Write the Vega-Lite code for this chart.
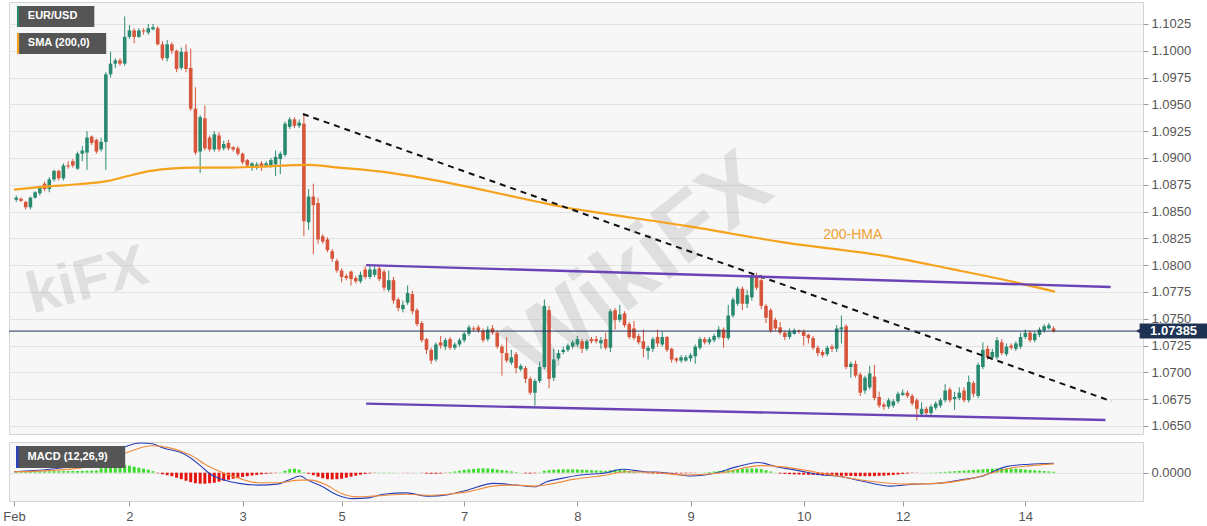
{
"$schema": "https://vega.github.io/schema/vega-lite/v6.json",
"background": "white",
"padding": {"left": 2, "top": 1, "right": 0, "bottom": 0},
"autosize": {"type": "pad"},
"spacing": 5,
"config": {
 "view": {"fill": "#f7f7f7", "stroke": "#d4d4d4"},
 "axis": {"labelFont": "Liberation Sans", "labelFontSize": 13, "labelColor": "#555555", "tickColor": "#9a9a9a", "tickSize": 5, "gridColor": "#e3e3e3", "domain": false, "title": null},
 "text": {"font": "Liberation Sans"}
},
"datasets": {
 "candles": [
{"i":0,"o":1.0861,"h":1.0865,"l":1.0859,"c":1.0863},
{"i":1,"o":1.0862,"h":1.0863,"l":1.0859,"c":1.0860},
{"i":2,"o":1.0859,"h":1.0860,"l":1.0852,"c":1.0854},
{"i":3,"o":1.0854,"h":1.0864,"l":1.0852,"c":1.0863},
{"i":4,"o":1.0863,"h":1.0869,"l":1.0862,"c":1.0868},
{"i":5,"o":1.0867,"h":1.0874,"l":1.0865,"c":1.0872},
{"i":6,"o":1.0876,"h":1.0878,"l":1.0869,"c":1.0871},
{"i":7,"o":1.0871,"h":1.0882,"l":1.0868,"c":1.0880},
{"i":8,"o":1.0880,"h":1.0889,"l":1.0878,"c":1.0888},
{"i":9,"o":1.0888,"h":1.0889,"l":1.0879,"c":1.0881},
{"i":10,"o":1.0881,"h":1.0895,"l":1.0879,"c":1.0893},
{"i":11,"o":1.0893,"h":1.0897,"l":1.0890,"c":1.0892},
{"i":12,"o":1.0897,"h":1.0899,"l":1.0891,"c":1.0893},
{"i":13,"o":1.0890,"h":1.0906,"l":1.0889,"c":1.0904},
{"i":14,"o":1.0904,"h":1.0911,"l":1.0897,"c":1.0907},
{"i":15,"o":1.0905,"h":1.0925,"l":1.0889,"c":1.0919},
{"i":16,"o":1.0920,"h":1.0921,"l":1.0912,"c":1.0914},
{"i":17,"o":1.0917,"h":1.0918,"l":1.0904,"c":1.0906},
{"i":18,"o":1.0908,"h":1.0919,"l":1.0906,"c":1.0915},
{"i":19,"o":1.0915,"h":1.0980,"l":1.0889,"c":1.0978},
{"i":20,"o":1.0978,"h":1.0999,"l":1.0975,"c":1.0988},
{"i":21,"o":1.0988,"h":1.0993,"l":1.0984,"c":1.0991},
{"i":22,"o":1.0991,"h":1.0993,"l":1.0986,"c":1.0988},
{"i":23,"o":1.0988,"h":1.1032,"l":1.0986,"c":1.1013},
{"i":24,"o":1.1013,"h":1.1024,"l":1.1011,"c":1.1019},
{"i":25,"o":1.1019,"h":1.1021,"l":1.1007,"c":1.1013},
{"i":26,"o":1.1013,"h":1.1021,"l":1.1012,"c":1.1019},
{"i":27,"o":1.1019,"h":1.1021,"l":1.1015,"c":1.1018},
{"i":28,"o":1.1017,"h":1.1025,"l":1.1015,"c":1.1021},
{"i":29,"o":1.1020,"h":1.1025,"l":1.1019,"c":1.1022},
{"i":30,"o":1.1021,"h":1.1023,"l":1.1005,"c":1.1006},
{"i":31,"o":1.1006,"h":1.1009,"l":1.0991,"c":1.0993},
{"i":32,"o":1.0993,"h":1.1010,"l":1.0990,"c":1.1006},
{"i":33,"o":1.1006,"h":1.1008,"l":1.0997,"c":1.1000},
{"i":34,"o":1.1000,"h":1.1001,"l":1.0980,"c":1.0983},
{"i":35,"o":1.0984,"h":1.1003,"l":1.0982,"c":1.0999},
{"i":36,"o":1.0999,"h":1.1006,"l":1.0980,"c":1.0983},
{"i":37,"o":1.0984,"h":1.1002,"l":1.0944,"c":1.0946},
{"i":38,"o":1.0946,"h":1.0966,"l":1.0903,"c":1.0905},
{"i":39,"o":1.0906,"h":1.0940,"l":1.0886,"c":1.0938},
{"i":40,"o":1.0937,"h":1.0949,"l":1.0907,"c":1.0909},
{"i":41,"o":1.0919,"h":1.0921,"l":1.0906,"c":1.0908},
{"i":42,"o":1.0908,"h":1.0925,"l":1.0906,"c":1.0922},
{"i":43,"o":1.0921,"h":1.0924,"l":1.0906,"c":1.0908},
{"i":44,"o":1.0909,"h":1.0916,"l":1.0907,"c":1.0913},
{"i":45,"o":1.0914,"h":1.0917,"l":1.0907,"c":1.0909},
{"i":46,"o":1.0910,"h":1.0911,"l":1.0906,"c":1.0908},
{"i":47,"o":1.0909,"h":1.0911,"l":1.0902,"c":1.0904},
{"i":48,"o":1.0904,"h":1.0905,"l":1.0894,"c":1.0896},
{"i":49,"o":1.0898,"h":1.0899,"l":1.0891,"c":1.0893},
{"i":50,"o":1.0891,"h":1.0896,"l":1.0888,"c":1.0895},
{"i":51,"o":1.0891,"h":1.0896,"l":1.0889,"c":1.0894},
{"i":52,"o":1.0895,"h":1.0897,"l":1.0888,"c":1.0892},
{"i":53,"o":1.0893,"h":1.0897,"l":1.0891,"c":1.0895},
{"i":54,"o":1.0893,"h":1.0900,"l":1.0891,"c":1.0898},
{"i":55,"o":1.0894,"h":1.0907,"l":1.0883,"c":1.0901},
{"i":56,"o":1.0899,"h":1.0906,"l":1.0885,"c":1.0904},
{"i":57,"o":1.0903,"h":1.0934,"l":1.0901,"c":1.0932},
{"i":58,"o":1.0929,"h":1.0938,"l":1.0927,"c":1.0936},
{"i":59,"o":1.0936,"h":1.0938,"l":1.0928,"c":1.0930},
{"i":60,"o":1.0930,"h":1.0936,"l":1.0928,"c":1.0933},
{"i":61,"o":1.0932,"h":1.0941,"l":1.0827,"c":1.0841},
{"i":62,"o":1.0840,"h":1.0871,"l":1.0833,"c":1.0864},
{"i":63,"o":1.0864,"h":1.0876,"l":1.0810,"c":1.0856},
{"i":64,"o":1.0858,"h":1.0863,"l":1.0820,"c":1.0824},
{"i":65,"o":1.0827,"h":1.0829,"l":1.0820,"c":1.0822},
{"i":66,"o":1.0824,"h":1.0826,"l":1.0812,"c":1.0814},
{"i":67,"o":1.0813,"h":1.0815,"l":1.0803,"c":1.0806},
{"i":68,"o":1.0804,"h":1.0806,"l":1.0793,"c":1.0795},
{"i":69,"o":1.0795,"h":1.0797,"l":1.0784,"c":1.0789},
{"i":70,"o":1.0790,"h":1.0792,"l":1.0786,"c":1.0788},
{"i":71,"o":1.0794,"h":1.0795,"l":1.0781,"c":1.0787},
{"i":72,"o":1.0788,"h":1.0790,"l":1.0783,"c":1.0785},
{"i":73,"o":1.0785,"h":1.0794,"l":1.0783,"c":1.0791},
{"i":74,"o":1.0796,"h":1.0799,"l":1.0787,"c":1.0789},
{"i":75,"o":1.0789,"h":1.0800,"l":1.0787,"c":1.0796},
{"i":76,"o":1.0791,"h":1.0800,"l":1.0789,"c":1.0796},
{"i":77,"o":1.0797,"h":1.0799,"l":1.0785,"c":1.0787},
{"i":78,"o":1.0794,"h":1.0796,"l":1.0776,"c":1.0779},
{"i":79,"o":1.0777,"h":1.0795,"l":1.0775,"c":1.0786},
{"i":80,"o":1.0786,"h":1.0789,"l":1.0764,"c":1.0767},
{"i":81,"o":1.0768,"h":1.0770,"l":1.0757,"c":1.0760},
{"i":82,"o":1.0759,"h":1.0767,"l":1.0756,"c":1.0763},
{"i":83,"o":1.0765,"h":1.0781,"l":1.0763,"c":1.0774},
{"i":84,"o":1.0773,"h":1.0776,"l":1.0754,"c":1.0757},
{"i":85,"o":1.0758,"h":1.0760,"l":1.0743,"c":1.0745},
{"i":86,"o":1.0746,"h":1.0748,"l":1.0728,"c":1.0730},
{"i":87,"o":1.0731,"h":1.0732,"l":1.0717,"c":1.0721},
{"i":88,"o":1.0721,"h":1.0723,"l":1.0708,"c":1.0711},
{"i":89,"o":1.0712,"h":1.0728,"l":1.0710,"c":1.0726},
{"i":90,"o":1.0728,"h":1.0734,"l":1.0722,"c":1.0725},
{"i":91,"o":1.0724,"h":1.0732,"l":1.0721,"c":1.0730},
{"i":92,"o":1.0731,"h":1.0733,"l":1.0721,"c":1.0723},
{"i":93,"o":1.0723,"h":1.0728,"l":1.0721,"c":1.0726},
{"i":94,"o":1.0726,"h":1.0732,"l":1.0724,"c":1.0730},
{"i":95,"o":1.0730,"h":1.0738,"l":1.0728,"c":1.0736},
{"i":96,"o":1.0736,"h":1.0744,"l":1.0734,"c":1.0742},
{"i":97,"o":1.0741,"h":1.0743,"l":1.0738,"c":1.0740},
{"i":98,"o":1.0742,"h":1.0744,"l":1.0737,"c":1.0739},
{"i":99,"o":1.0739,"h":1.0741,"l":1.0728,"c":1.0730},
{"i":100,"o":1.0731,"h":1.0743,"l":1.0729,"c":1.0740},
{"i":101,"o":1.0741,"h":1.0744,"l":1.0735,"c":1.0737},
{"i":102,"o":1.0737,"h":1.0739,"l":1.0722,"c":1.0724},
{"i":103,"o":1.0724,"h":1.0726,"l":1.0697,"c":1.0718},
{"i":104,"o":1.0718,"h":1.0733,"l":1.0709,"c":1.0711},
{"i":105,"o":1.0709,"h":1.0721,"l":1.0707,"c":1.0714},
{"i":106,"o":1.0717,"h":1.0719,"l":1.0699,"c":1.0704},
{"i":107,"o":1.0703,"h":1.0708,"l":1.0701,"c":1.0706},
{"i":108,"o":1.0704,"h":1.0706,"l":1.0690,"c":1.0694},
{"i":109,"o":1.0694,"h":1.0696,"l":1.0679,"c":1.0681},
{"i":110,"o":1.0681,"h":1.0694,"l":1.0669,"c":1.0692},
{"i":111,"o":1.0692,"h":1.0710,"l":1.0690,"c":1.0705},
{"i":112,"o":1.0705,"h":1.0768,"l":1.0703,"c":1.0762},
{"i":113,"o":1.0758,"h":1.0762,"l":1.0685,"c":1.0694},
{"i":114,"o":1.0695,"h":1.0722,"l":1.0692,"c":1.0712},
{"i":115,"o":1.0713,"h":1.0721,"l":1.0711,"c":1.0718},
{"i":116,"o":1.0719,"h":1.0724,"l":1.0717,"c":1.0721},
{"i":117,"o":1.0721,"h":1.0727,"l":1.0719,"c":1.0725},
{"i":118,"o":1.0724,"h":1.0730,"l":1.0722,"c":1.0728},
{"i":119,"o":1.0726,"h":1.0734,"l":1.0724,"c":1.0731},
{"i":120,"o":1.0729,"h":1.0731,"l":1.0718,"c":1.0722},
{"i":121,"o":1.0722,"h":1.0731,"l":1.0720,"c":1.0729},
{"i":122,"o":1.0731,"h":1.0733,"l":1.0727,"c":1.0729},
{"i":123,"o":1.0731,"h":1.0734,"l":1.0727,"c":1.0729},
{"i":124,"o":1.0727,"h":1.0733,"l":1.0722,"c":1.0730},
{"i":125,"o":1.0731,"h":1.0737,"l":1.0721,"c":1.0723},
{"i":126,"o":1.0723,"h":1.0759,"l":1.0719,"c":1.0757},
{"i":127,"o":1.0758,"h":1.0760,"l":1.0740,"c":1.0749},
{"i":128,"o":1.0749,"h":1.0763,"l":1.0747,"c":1.0754},
{"i":129,"o":1.0755,"h":1.0757,"l":1.0742,"c":1.0744},
{"i":130,"o":1.0745,"h":1.0747,"l":1.0731,"c":1.0733},
{"i":131,"o":1.0741,"h":1.0748,"l":1.0730,"c":1.0732},
{"i":132,"o":1.0734,"h":1.0736,"l":1.0726,"c":1.0728},
{"i":133,"o":1.0729,"h":1.0740,"l":1.0714,"c":1.0722},
{"i":134,"o":1.0720,"h":1.0725,"l":1.0712,"c":1.0723},
{"i":135,"o":1.0722,"h":1.0733,"l":1.0719,"c":1.0731},
{"i":136,"o":1.0733,"h":1.0740,"l":1.0724,"c":1.0727},
{"i":137,"o":1.0726,"h":1.0738,"l":1.0724,"c":1.0733},
{"i":138,"o":1.0733,"h":1.0734,"l":1.0719,"c":1.0721},
{"i":139,"o":1.0722,"h":1.0723,"l":1.0709,"c":1.0712},
{"i":140,"o":1.0713,"h":1.0714,"l":1.0709,"c":1.0711},
{"i":141,"o":1.0711,"h":1.0716,"l":1.0709,"c":1.0714},
{"i":142,"o":1.0711,"h":1.0716,"l":1.0710,"c":1.0714},
{"i":143,"o":1.0713,"h":1.0718,"l":1.0710,"c":1.0716},
{"i":144,"o":1.0715,"h":1.0726,"l":1.0708,"c":1.0724},
{"i":145,"o":1.0723,"h":1.0733,"l":1.0721,"c":1.0731},
{"i":146,"o":1.0731,"h":1.0733,"l":1.0726,"c":1.0728},
{"i":147,"o":1.0728,"h":1.0733,"l":1.0726,"c":1.0731},
{"i":148,"o":1.0730,"h":1.0736,"l":1.0728,"c":1.0734},
{"i":149,"o":1.0733,"h":1.0743,"l":1.0731,"c":1.0740},
{"i":150,"o":1.0740,"h":1.0742,"l":1.0723,"c":1.0732},
{"i":151,"o":1.0732,"h":1.0763,"l":1.0730,"c":1.0753},
{"i":152,"o":1.0753,"h":1.0770,"l":1.0751,"c":1.0768},
{"i":153,"o":1.0764,"h":1.0780,"l":1.0762,"c":1.0778},
{"i":154,"o":1.0778,"h":1.0780,"l":1.0758,"c":1.0764},
{"i":155,"o":1.0764,"h":1.0777,"l":1.0760,"c":1.0772},
{"i":156,"o":1.0770,"h":1.0793,"l":1.0767,"c":1.0790},
{"i":157,"o":1.0790,"h":1.0793,"l":1.0777,"c":1.0779},
{"i":158,"o":1.0786,"h":1.0791,"l":1.0759,"c":1.0762},
{"i":159,"o":1.0762,"h":1.0764,"l":1.0746,"c":1.0751},
{"i":160,"o":1.0758,"h":1.0760,"l":1.0737,"c":1.0739},
{"i":161,"o":1.0749,"h":1.0751,"l":1.0739,"c":1.0741},
{"i":162,"o":1.0742,"h":1.0747,"l":1.0735,"c":1.0737},
{"i":163,"o":1.0737,"h":1.0739,"l":1.0730,"c":1.0733},
{"i":164,"o":1.0733,"h":1.0741,"l":1.0731,"c":1.0738},
{"i":165,"o":1.0736,"h":1.0741,"l":1.0735,"c":1.0739},
{"i":166,"o":1.0739,"h":1.0740,"l":1.0736,"c":1.0738},
{"i":167,"o":1.0738,"h":1.0740,"l":1.0725,"c":1.0734},
{"i":168,"o":1.0735,"h":1.0736,"l":1.0727,"c":1.0732},
{"i":169,"o":1.0732,"h":1.0734,"l":1.0721,"c":1.0723},
{"i":170,"o":1.0723,"h":1.0725,"l":1.0715,"c":1.0718},
{"i":171,"o":1.0719,"h":1.0721,"l":1.0714,"c":1.0716},
{"i":172,"o":1.0717,"h":1.0725,"l":1.0715,"c":1.0723},
{"i":173,"o":1.0724,"h":1.0726,"l":1.0719,"c":1.0722},
{"i":174,"o":1.0722,"h":1.0744,"l":1.0719,"c":1.0741},
{"i":175,"o":1.0740,"h":1.0753,"l":1.0727,"c":1.0742},
{"i":176,"o":1.0743,"h":1.0745,"l":1.0703,"c":1.0705},
{"i":177,"o":1.0705,"h":1.0710,"l":1.0695,"c":1.0708},
{"i":178,"o":1.0708,"h":1.0711,"l":1.0695,"c":1.0697},
{"i":179,"o":1.0698,"h":1.0700,"l":1.0678,"c":1.0681},
{"i":180,"o":1.0683,"h":1.0697,"l":1.0680,"c":1.0695},
{"i":181,"o":1.0686,"h":1.0706,"l":1.0684,"c":1.0699},
{"i":182,"o":1.0696,"h":1.0707,"l":1.0674,"c":1.0676},
{"i":183,"o":1.0677,"h":1.0682,"l":1.0667,"c":1.0669},
{"i":184,"o":1.0670,"h":1.0672,"l":1.0665,"c":1.0668},
{"i":185,"o":1.0668,"h":1.0676,"l":1.0666,"c":1.0674},
{"i":186,"o":1.0669,"h":1.0675,"l":1.0667,"c":1.0673},
{"i":187,"o":1.0673,"h":1.0682,"l":1.0671,"c":1.0680},
{"i":188,"o":1.0679,"h":1.0684,"l":1.0678,"c":1.0681},
{"i":189,"o":1.0681,"h":1.0683,"l":1.0676,"c":1.0678},
{"i":190,"o":1.0678,"h":1.0680,"l":1.0669,"c":1.0671},
{"i":191,"o":1.0674,"h":1.0676,"l":1.0655,"c":1.0666},
{"i":192,"o":1.0661,"h":1.0672,"l":1.0659,"c":1.0666},
{"i":193,"o":1.0666,"h":1.0668,"l":1.0660,"c":1.0662},
{"i":194,"o":1.0662,"h":1.0670,"l":1.0660,"c":1.0668},
{"i":195,"o":1.0667,"h":1.0673,"l":1.0665,"c":1.0671},
{"i":196,"o":1.0669,"h":1.0676,"l":1.0667,"c":1.0674},
{"i":197,"o":1.0674,"h":1.0689,"l":1.0672,"c":1.0683},
{"i":198,"o":1.0684,"h":1.0686,"l":1.0672,"c":1.0674},
{"i":199,"o":1.0675,"h":1.0682,"l":1.0665,"c":1.0677},
{"i":200,"o":1.0676,"h":1.0686,"l":1.0674,"c":1.0681},
{"i":201,"o":1.0683,"h":1.0686,"l":1.0672,"c":1.0674},
{"i":202,"o":1.0674,"h":1.0697,"l":1.0672,"c":1.0691},
{"i":203,"o":1.0690,"h":1.0692,"l":1.0677,"c":1.0680},
{"i":204,"o":1.0678,"h":1.0709,"l":1.0676,"c":1.0707},
{"i":205,"o":1.0705,"h":1.0728,"l":1.0703,"c":1.0721},
{"i":206,"o":1.0722,"h":1.0725,"l":1.0712,"c":1.0714},
{"i":207,"o":1.0714,"h":1.0722,"l":1.0712,"c":1.0719},
{"i":208,"o":1.0714,"h":1.0733,"l":1.0712,"c":1.0730},
{"i":209,"o":1.0728,"h":1.0731,"l":1.0716,"c":1.0718},
{"i":210,"o":1.0717,"h":1.0727,"l":1.0715,"c":1.0724},
{"i":211,"o":1.0725,"h":1.0727,"l":1.0721,"c":1.0723},
{"i":212,"o":1.0722,"h":1.0729,"l":1.0720,"c":1.0727},
{"i":213,"o":1.0724,"h":1.0737,"l":1.0722,"c":1.0733},
{"i":214,"o":1.0733,"h":1.0740,"l":1.0731,"c":1.0737},
{"i":215,"o":1.0737,"h":1.0739,"l":1.0728,"c":1.0730},
{"i":216,"o":1.0730,"h":1.0738,"l":1.0728,"c":1.0736},
{"i":217,"o":1.0735,"h":1.0742,"l":1.0733,"c":1.0740},
{"i":218,"o":1.0739,"h":1.0745,"l":1.0737,"c":1.0743},
{"i":219,"o":1.0741,"h":1.0746,"l":1.0740,"c":1.0744},
{"i":220,"o":1.0741,"h":1.0743,"l":1.0737,"c":1.07385}
 ],
 "hma": [
{"i":-0.48,"p":1.08704},{"i":6.0,"p":1.08732},{"i":13.2,"p":1.08755},{"i":19.5,"p":1.08786},{"i":23.7,"p":1.08832},{"i":28.5,"p":1.08879},{"i":32.7,"p":1.08900},{"i":37.6,"p":1.08910},{"i":44.7,"p":1.08910},{"i":51.7,"p":1.08919},{"i":62.2,"p":1.08935},{"i":68.5,"p":1.08910},{"i":79,"p":1.08863},{"i":89.5,"p":1.08786},{"i":100,"p":1.08692},{"i":110.5,"p":1.08592},{"i":116.8,"p":1.08536},{"i":121,"p":1.08506},{"i":142.1,"p":1.08366},{"i":163.1,"p":1.08210},{"i":184.1,"p":1.08086},{"i":198.2,"p":1.07965},{"i":208.7,"p":1.07871},{"i":220.3,"p":1.07753}
 ],
 "trend": [{"i":60.8,"p":1.0941},{"i":232.3,"p":1.0673}],
 "channel": [
{"line":"top","i":74.2,"p":1.08000},{"line":"top","i":232.1,"p":1.07797},
{"line":"bottom","i":74.2,"p":1.06708},{"line":"bottom","i":231.0,"p":1.06556}
 ],
 "macd": [
{"s":"MACD","i":-0.48,"v":0.00010},{"s":"MACD","i":7.1,"v":0.00034},{"s":"MACD","i":15.1,"v":0.00095},{"s":"MACD","i":19.1,"v":0.00162},{"s":"MACD","i":23.2,"v":0.00263},{"s":"MACD","i":26.4,"v":0.00297},{"s":"MACD","i":28.8,"v":0.00290},{"s":"MACD","i":31.2,"v":0.00246},{"s":"MACD","i":35.2,"v":0.00196},{"s":"MACD","i":39.3,"v":0.00061},{"s":"MACD","i":40.9,"v":-0.00006},{"s":"MACD","i":44.1,"v":-0.00074},{"s":"MACD","i":47.3,"v":-0.00107},{"s":"MACD","i":51.3,"v":-0.00124},{"s":"MACD","i":55.4,"v":-0.00114},{"s":"MACD","i":57.8,"v":-0.00074},{"s":"MACD","i":60.2,"v":-0.00033},{"s":"MACD","i":61.8,"v":-0.00074},{"s":"MACD","i":65,"v":-0.00141},{"s":"MACD","i":68.2,"v":-0.00225},{"s":"MACD","i":71.4,"v":-0.00259},{"s":"MACD","i":74.7,"v":-0.00252},{"s":"MACD","i":77.9,"v":-0.00215},{"s":"MACD","i":82.7,"v":-0.00202},{"s":"MACD","i":87.5,"v":-0.00236},{"s":"MACD","i":91.6,"v":-0.00219},{"s":"MACD","i":95.6,"v":-0.00175},{"s":"MACD","i":101.2,"v":-0.00107},{"s":"MACD","i":106,"v":-0.00124},{"s":"MACD","i":110,"v":-0.00141},{"s":"MACD","i":112.5,"v":-0.00091},{"s":"MACD","i":115.7,"v":-0.00057},{"s":"MACD","i":119.7,"v":-0.00023},{"s":"MACD","i":125.2,"v":0.0},{"s":"MACD","i":128.5,"v":0.00034},{"s":"MACD","i":133.4,"v":0.00010},{"s":"MACD","i":137.5,"v":0.0},{"s":"MACD","i":143.2,"v":-0.00033},{"s":"MACD","i":148.1,"v":-0.00006},{"s":"MACD","i":152.9,"v":0.00061},{"s":"MACD","i":157.4,"v":0.00102},{"s":"MACD","i":161.1,"v":0.00061},{"s":"MACD","i":165.9,"v":0.00021},{"s":"MACD","i":170.8,"v":-0.00023},{"s":"MACD","i":174.1,"v":-0.00033},{"s":"MACD","i":179,"v":-0.00080},{"s":"MACD","i":185.5,"v":-0.00134},{"s":"MACD","i":190.4,"v":-0.00114},{"s":"MACD","i":195.3,"v":-0.00107},{"s":"MACD","i":200.1,"v":-0.00074},{"s":"MACD","i":205,"v":-0.00033},{"s":"MACD","i":209.9,"v":0.00061},{"s":"MACD","i":214.8,"v":0.00085},{"s":"MACD","i":220.1,"v":0.00095},
{"s":"Signal","i":-0.48,"v":0.00010},{"s":"Signal","i":7.1,"v":0.00021},{"s":"Signal","i":15.1,"v":0.00061},{"s":"Signal","i":20,"v":0.00128},{"s":"Signal","i":23.2,"v":0.00196},{"s":"Signal","i":28.8,"v":0.00270},{"s":"Signal","i":32.8,"v":0.00246},{"s":"Signal","i":36.8,"v":0.00179},{"s":"Signal","i":40.9,"v":0.00061},{"s":"Signal","i":44.1,"v":-0.00006},{"s":"Signal","i":47.3,"v":-0.00057},{"s":"Signal","i":51.3,"v":-0.00101},{"s":"Signal","i":55.4,"v":-0.00101},{"s":"Signal","i":60.2,"v":-0.00074},{"s":"Signal","i":62.6,"v":-0.00074},{"s":"Signal","i":65.8,"v":-0.00124},{"s":"Signal","i":69,"v":-0.00209},{"s":"Signal","i":72.2,"v":-0.00242},{"s":"Signal","i":76.3,"v":-0.00232},{"s":"Signal","i":82.7,"v":-0.00215},{"s":"Signal","i":87.5,"v":-0.00225},{"s":"Signal","i":91.6,"v":-0.00215},{"s":"Signal","i":95.6,"v":-0.00192},{"s":"Signal","i":101.2,"v":-0.00134},{"s":"Signal","i":106,"v":-0.00124},{"s":"Signal","i":110,"v":-0.00134},{"s":"Signal","i":113.3,"v":-0.00114},{"s":"Signal","i":118.1,"v":-0.00067},{"s":"Signal","i":125.2,"v":-0.00023},{"s":"Signal","i":129.3,"v":0.00010},{"s":"Signal","i":135,"v":0.00004},{"s":"Signal","i":141.5,"v":-0.00023},{"s":"Signal","i":149.7,"v":0.0},{"s":"Signal","i":157.8,"v":0.00071},{"s":"Signal","i":161.9,"v":0.00061},{"s":"Signal","i":169.2,"v":0.00010},{"s":"Signal","i":174.1,"v":-0.00033},{"s":"Signal","i":182.2,"v":-0.00091},{"s":"Signal","i":188.7,"v":-0.00114},{"s":"Signal","i":195.3,"v":-0.00107},{"s":"Signal","i":201.8,"v":-0.00067},{"s":"Signal","i":206.7,"v":-0.00006},{"s":"Signal","i":210.7,"v":0.00044},{"s":"Signal","i":214.8,"v":0.00068},{"s":"Signal","i":220.1,"v":0.00088}
 ],
 "hist": [
{"i":0,"v":0.00010},{"i":1,"v":0.00010},{"i":2,"v":0.00012},{"i":3,"v":0.00012},{"i":4,"v":0.00013},{"i":5,"v":0.00013},{"i":6,"v":0.00014},{"i":7,"v":0.00014},{"i":8,"v":0.00015},{"i":9,"v":0.00015},{"i":10,"v":0.00016},{"i":11,"v":0.00016},{"i":12,"v":0.00017},{"i":13,"v":0.00017},{"i":14,"v":0.00018},{"i":15,"v":0.00019},{"i":16,"v":0.00020},{"i":17,"v":0.00022},
{"i":18,"v":0.00045},{"i":19,"v":0.00060},{"i":20,"v":0.00070},{"i":21,"v":0.00075},{"i":22,"v":0.00078},{"i":23,"v":0.00076},{"i":24,"v":0.00070},{"i":25,"v":0.00060},{"i":26,"v":0.00050},{"i":27,"v":0.00040},{"i":28,"v":0.00030},{"i":29,"v":0.00015},
{"i":30,"v":-0.00005},{"i":31,"v":-0.00015},{"i":32,"v":-0.00025},{"i":33,"v":-0.00035},{"i":34,"v":-0.00050},{"i":35,"v":-0.00065},{"i":36,"v":-0.00080},{"i":37,"v":-0.00095},{"i":38,"v":-0.00105},{"i":39,"v":-0.00110},{"i":40,"v":-0.00110},{"i":41,"v":-0.00105},{"i":42,"v":-0.00100},{"i":43,"v":-0.00090},{"i":44,"v":-0.00080},{"i":45,"v":-0.00070},{"i":46,"v":-0.00060},{"i":47,"v":-0.00050},{"i":48,"v":-0.00042},{"i":49,"v":-0.00035},{"i":50,"v":-0.00028},{"i":51,"v":-0.00022},{"i":52,"v":-0.00016},{"i":53,"v":-0.00010},{"i":54,"v":-0.00006},{"i":55,"v":-0.00003},
{"i":56,"v":0.00003},{"i":57,"v":0.00020},{"i":58,"v":0.00035},{"i":59,"v":0.00040},{"i":60,"v":0.00030},{"i":61,"v":0.00005},
{"i":62,"v":-0.00010},{"i":63,"v":-0.00025},{"i":64,"v":-0.00040},{"i":65,"v":-0.00055},{"i":66,"v":-0.00065},{"i":67,"v":-0.00067},{"i":68,"v":-0.00065},{"i":69,"v":-0.00060},{"i":70,"v":-0.00050},{"i":71,"v":-0.00040},{"i":72,"v":-0.00030},{"i":73,"v":-0.00020},{"i":74,"v":-0.00012},{"i":75,"v":-0.00006},
{"i":76,"v":-0.00002},{"i":77,"v":0.00002},{"i":78,"v":0.00003},{"i":79,"v":0.00003},{"i":80,"v":0.00002},{"i":81,"v":0.00001},{"i":82,"v":-0.00001},{"i":83,"v":-0.00002},{"i":84,"v":-0.00001},{"i":85,"v":0.00001},{"i":86,"v":-0.00002},
{"i":87,"v":-0.00008},{"i":88,"v":-0.00010},{"i":89,"v":-0.00010},{"i":90,"v":-0.00007},{"i":91,"v":-0.00002},
{"i":92,"v":0.00005},{"i":93,"v":0.00012},{"i":94,"v":0.00020},{"i":95,"v":0.00028},{"i":96,"v":0.00033},{"i":97,"v":0.00038},{"i":98,"v":0.00042},{"i":99,"v":0.00043},{"i":100,"v":0.00042},{"i":101,"v":0.00038},{"i":102,"v":0.00032},{"i":103,"v":0.00026},{"i":104,"v":0.00020},{"i":105,"v":0.00013},{"i":106,"v":0.00006},
{"i":107,"v":0.00001},{"i":108,"v":-0.00006},{"i":109,"v":-0.00008},{"i":110,"v":-0.00005},{"i":111,"v":0.00003},
{"i":112,"v":0.00020},{"i":113,"v":0.00025},{"i":114,"v":0.00030},{"i":115,"v":0.00032},{"i":116,"v":0.00034},{"i":117,"v":0.00034},{"i":118,"v":0.00033},{"i":119,"v":0.00032},{"i":120,"v":0.00030},{"i":121,"v":0.00028},{"i":122,"v":0.00025},{"i":123,"v":0.00023},{"i":124,"v":0.00020},{"i":125,"v":0.00018},
{"i":126,"v":0.00024},{"i":127,"v":0.00030},{"i":128,"v":0.00032},{"i":129,"v":0.00026},{"i":130,"v":0.00018},{"i":131,"v":0.00010},
{"i":132,"v":0.00003},{"i":133,"v":-0.00003},{"i":134,"v":-0.00006},{"i":135,"v":-0.00008},{"i":136,"v":-0.00009},{"i":137,"v":-0.00010},{"i":138,"v":-0.00010},{"i":139,"v":-0.00009},{"i":140,"v":-0.00008},{"i":141,"v":-0.00006},{"i":142,"v":-0.00005},{"i":143,"v":-0.00003},{"i":144,"v":-0.00002},{"i":145,"v":0.00001},{"i":146,"v":0.00003},
{"i":147,"v":0.00008},{"i":148,"v":0.00012},{"i":149,"v":0.00016},{"i":150,"v":0.00020},{"i":151,"v":0.00024},{"i":152,"v":0.00028},{"i":153,"v":0.00032},{"i":154,"v":0.00036},{"i":155,"v":0.00040},{"i":156,"v":0.00043},{"i":157,"v":0.00041},{"i":158,"v":0.00035},{"i":159,"v":0.00025},{"i":160,"v":0.00012},
{"i":161,"v":0.00002},
{"i":162,"v":-0.00008},{"i":163,"v":-0.00012},{"i":164,"v":-0.00015},{"i":165,"v":-0.00017},{"i":166,"v":-0.00018},{"i":167,"v":-0.00020},{"i":168,"v":-0.00021},{"i":169,"v":-0.00022},{"i":170,"v":-0.00023},{"i":171,"v":-0.00024},{"i":172,"v":-0.00026},{"i":173,"v":-0.00028},{"i":174,"v":-0.00030},{"i":175,"v":-0.00031},{"i":176,"v":-0.00032},{"i":177,"v":-0.00033},{"i":178,"v":-0.00034},{"i":179,"v":-0.00035},{"i":180,"v":-0.00035},{"i":181,"v":-0.00035},{"i":182,"v":-0.00034},{"i":183,"v":-0.00032},{"i":184,"v":-0.00030},{"i":185,"v":-0.00026},{"i":186,"v":-0.00022},{"i":187,"v":-0.00018},{"i":188,"v":-0.00012},{"i":189,"v":-0.00008},
{"i":190,"v":-0.00003},{"i":191,"v":-0.00002},{"i":192,"v":-0.00001},{"i":193,"v":0.00001},{"i":194,"v":0.00002},{"i":195,"v":0.00003},
{"i":196,"v":0.00006},{"i":197,"v":0.00009},{"i":198,"v":0.00012},{"i":199,"v":0.00015},{"i":200,"v":0.00018},{"i":201,"v":0.00021},{"i":202,"v":0.00025},{"i":203,"v":0.00028},{"i":204,"v":0.00031},{"i":205,"v":0.00034},{"i":206,"v":0.00037},{"i":207,"v":0.00040},{"i":208,"v":0.00042},{"i":209,"v":0.00043},{"i":210,"v":0.00043},{"i":211,"v":0.00042},{"i":212,"v":0.00040},{"i":213,"v":0.00036},{"i":214,"v":0.00032},{"i":215,"v":0.00028},{"i":216,"v":0.00024},{"i":217,"v":0.00020},{"i":218,"v":0.00016},{"i":219,"v":0.00013},{"i":220,"v":0.00010}
 ]
},
"vconcat": [
 {
  "width": 1134,
  "height": 432,
  "resolve": {"axis": {"x": "independent", "y": "independent"}},
  "layer": [
   {
    "data": {"values": [{"t": "WikiFX"}]},
    "mark": {"type": "text", "fontSize": 92, "fontWeight": "bold", "angle": 322, "color": "#9a9a9a", "opacity": 0.25, "align": "center", "baseline": "middle"},
    "encoding": {
     "text": {"field": "t"},
     "x": {"datum": 132, "type": "quantitative", "scale": {"domain": [-0.48, 237.9], "nice": false, "zero": false}, "axis": null},
     "y": {"datum": 1.0798, "type": "quantitative", "scale": {"domain": [1.06425, 1.10455], "nice": false, "zero": false}, "axis": null}
    }
   },
   {
    "data": {"values": [{"t": "kiFX"}]},
    "mark": {"type": "text", "fontSize": 58, "fontWeight": "bold", "angle": 345, "color": "#9a9a9a", "opacity": 0.25, "align": "left", "baseline": "middle", "clip": true},
    "encoding": {
     "text": {"field": "t"},
     "x": {"datum": 2.5, "axis": null},
     "y": {"datum": 1.0770, "axis": null}
    }
   },
   {
    "data": {"name": "candles"},
    "mark": {"type": "rule", "strokeWidth": 1},
    "encoding": {
     "x": {"field": "i", "type": "quantitative", "axis": null},
     "y": {"field": "l", "type": "quantitative", "axis": {"orient": "right", "values": [1.065, 1.0675, 1.07, 1.0725, 1.075, 1.0775, 1.08, 1.0825, 1.085, 1.0875, 1.09, 1.0925, 1.095, 1.0975, 1.1, 1.1025], "format": ".4f", "grid": true, "labelPadding": 3, "labelOverlap": false}},
     "y2": {"field": "h"},
     "color": {"condition": {"test": "datum.c >= datum.o", "value": "#2a8a70"}, "value": "#d6553b"}
    }
   },
   {
    "data": {"name": "candles"},
    "mark": {"type": "bar", "size": 3.6},
    "encoding": {
     "x": {"field": "i", "type": "quantitative", "axis": null},
     "y": {"field": "o", "type": "quantitative", "axis": null},
     "y2": {"field": "c"},
     "color": {"condition": {"test": "datum.c >= datum.o", "value": "#2a8a70"}, "value": "#d6553b"}
    }
   },
   {
    "data": {"name": "hma"},
    "mark": {"type": "line", "color": "#f5a21c", "strokeWidth": 2.2, "interpolate": "monotone"},
    "encoding": {
     "x": {"field": "i", "type": "quantitative", "axis": null},
     "y": {"field": "p", "type": "quantitative", "axis": null}
    }
   },
   {
    "data": {"name": "trend"},
    "mark": {"type": "line", "color": "#111111", "strokeWidth": 2, "strokeDash": [6, 5]},
    "encoding": {
     "x": {"field": "i", "type": "quantitative", "axis": null},
     "y": {"field": "p", "type": "quantitative", "axis": null}
    }
   },
   {
    "data": {"name": "channel"},
    "mark": {"type": "line", "color": "#6a44b6", "strokeWidth": 2.4},
    "encoding": {
     "x": {"field": "i", "type": "quantitative", "axis": null},
     "y": {"field": "p", "type": "quantitative", "axis": null},
     "detail": {"field": "line"}
    }
   },
   {
    "data": {"values": [{"p": 1.07385}]},
    "mark": {"type": "rule", "color": "#22335a", "strokeWidth": 1},
    "encoding": {"y": {"field": "p", "type": "quantitative", "axis": null}}
   },
   {
    "data": {"values": [{"p": 1.07385}]},
    "mark": {"type": "rect", "color": "#1e3354"},
    "encoding": {
     "x": {"datum": 238.25, "axis": null},
     "x2": {"datum": 252.6},
     "y": {"datum": 1.07455, "axis": null},
     "y2": {"datum": 1.07315}
    }
   },
   {
    "data": {"values": [{"p": 1.07385}]},
    "mark": {"type": "point", "shape": "triangle-left", "filled": true, "size": 30, "color": "#1e3354", "opacity": 1},
    "encoding": {
     "x": {"datum": 238.0, "axis": null},
     "y": {"field": "p", "type": "quantitative", "axis": null}
    }
   },
   {
    "data": {"values": [{"p": 1.07385}]},
    "mark": {"type": "text", "color": "white", "fontWeight": "bold", "fontSize": 13, "align": "center", "baseline": "middle"},
    "encoding": {
     "x": {"datum": 245.45, "axis": null},
     "y": {"field": "p", "type": "quantitative", "axis": null},
     "text": {"field": "p", "type": "quantitative", "format": ".5f"}
    }
   },
   {
    "data": {"values": [{"x0": 0.15, "x1": 16.55, "y0": 1.10418, "y1": 1.10222, "c": "#555555"}, {"x0": 0.15, "x1": 19.07, "y0": 1.10166, "y1": 1.09970, "c": "#555555"}, {"x0": 0.15, "x1": 0.6, "y0": 1.10418, "y1": 1.10222, "c": "#2a8a70"}, {"x0": 0.15, "x1": 0.6, "y0": 1.10166, "y1": 1.09970, "c": "#f5a21c"}]},
    "mark": {"type": "rect"},
    "encoding": {
     "x": {"field": "x0", "type": "quantitative", "axis": null},
     "x2": {"field": "x1"},
     "y": {"field": "y0", "type": "quantitative", "axis": null},
     "y2": {"field": "y1"},
     "color": {"field": "c", "type": "nominal", "scale": null}
    }
   },
   {
    "data": {"values": [{"t": "EUR/USD", "x": 2.45, "y": 1.10320}, {"t": "SMA (200,0)", "x": 2.45, "y": 1.10068}]},
    "mark": {"type": "text", "color": "white", "fontSize": 11, "fontWeight": "bold", "align": "left", "baseline": "middle"},
    "encoding": {
     "x": {"field": "x", "type": "quantitative", "axis": null},
     "y": {"field": "y", "type": "quantitative", "axis": null},
     "text": {"field": "t"}
    }
   },
   {
    "data": {"values": [{"t": "200-HMA"}]},
    "mark": {"type": "text", "color": "#f0a030", "fontSize": 14, "align": "center", "baseline": "middle"},
    "encoding": {
     "x": {"datum": 177.4, "axis": null},
     "y": {"datum": 1.0828, "axis": null},
     "text": {"field": "t"}
    }
   }
  ]
 },
 {
  "width": 1134,
  "height": 59,
  "resolve": {"axis": {"x": "independent", "y": "independent"}},
  "layer": [
   {
    "data": {"name": "hist"},
    "mark": {"type": "bar", "size": 3},
    "encoding": {
     "x": {"field": "i", "type": "quantitative", "scale": {"domain": [-0.48, 237.9], "nice": false, "zero": false}, "axis": {"orient": "bottom", "values": [-0.48, 24, 48, 69, 95, 119, 143, 167, 188, 214], "labelExpr": "datum.value < 0 ? 'Feb' : datum.value == 24 ? '2' : datum.value == 48 ? '3' : datum.value == 69 ? '5' : datum.value == 95 ? '7' : datum.value == 119 ? '8' : datum.value == 143 ? '9' : datum.value == 167 ? '10' : datum.value == 188 ? '12' : '14'", "grid": false, "labelFlush": true, "labelPadding": 4}},
     "y": {"field": "v", "type": "quantitative", "scale": {"domain": [-0.00283, 0.00307], "nice": false, "zero": false}, "axis": {"orient": "right", "values": [0], "format": ".4f", "grid": true, "labelPadding": 3}},
     "y2": {"datum": 0},
     "color": {"condition": {"test": "datum.v >= 0", "value": "#3cdc2c"}, "value": "#e5140e"}
    }
   },
   {
    "data": {"name": "macd"},
    "mark": {"type": "line", "strokeWidth": 1.1, "interpolate": "monotone"},
    "encoding": {
     "x": {"field": "i", "type": "quantitative", "axis": null},
     "y": {"field": "v", "type": "quantitative", "axis": null},
     "color": {"field": "s", "type": "nominal", "scale": {"domain": ["MACD", "Signal"], "range": ["#2a3fb8", "#f08a3a"]}, "legend": null},
     "order": {"field": "i", "type": "quantitative"}
    }
   },
   {
    "data": {"values": [{"x0": -0.05, "x1": 23.1, "y0": 0.00267, "y1": 0.00047, "c": "#555555"}, {"x0": -0.05, "x1": 0.5, "y0": 0.00267, "y1": 0.00047, "c": "#2a3fb8"}]},
    "mark": {"type": "rect"},
    "encoding": {
     "x": {"field": "x0", "type": "quantitative", "axis": null},
     "x2": {"field": "x1"},
     "y": {"field": "y0", "type": "quantitative", "axis": null},
     "y2": {"field": "y1"},
     "color": {"field": "c", "type": "nominal", "scale": null}
    }
   },
   {
    "data": {"values": [{"t": "MACD (12,26,9)"}]},
    "mark": {"type": "text", "color": "white", "fontSize": 11, "fontWeight": "bold", "align": "left", "baseline": "middle"},
    "encoding": {
     "x": {"datum": 2.4, "axis": null},
     "y": {"datum": 0.00157, "axis": null},
     "text": {"field": "t"}
    }
   }
  ]
 }
]
}
